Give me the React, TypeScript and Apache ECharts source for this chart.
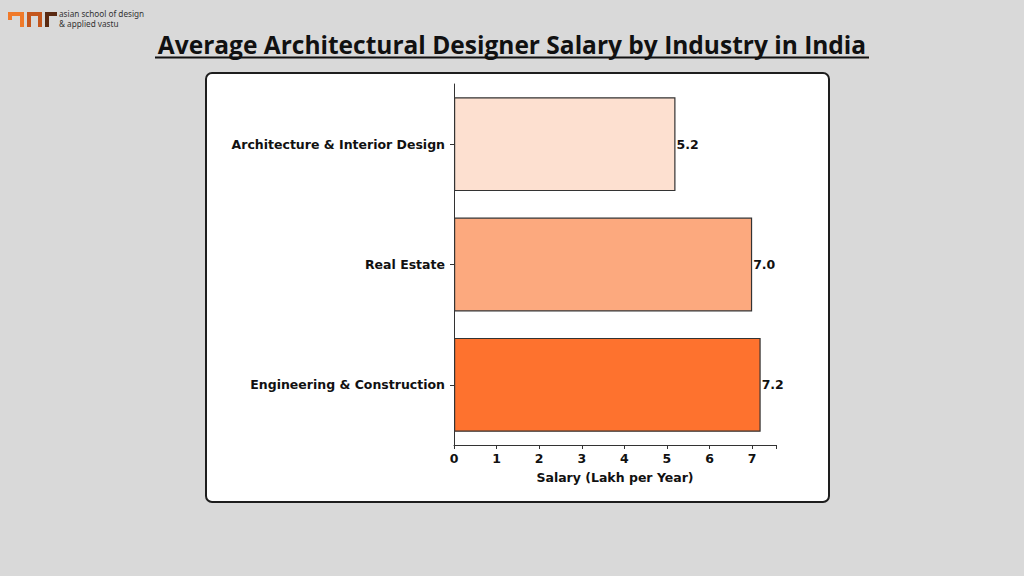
import React, { useEffect, useRef } from "react";
import * as echarts from "echarts";

const categories = ["Engineering & Construction", "Real Estate", "Architecture & Interior Design"];
const salaries = [7.2, 7.0, 5.2];
const barColors = ["#fe722e", "#fca97e", "#fde0d0"];
const xTicks = [0, 1, 2, 3, 4, 5, 6, 7];
const titleText = "Average Architectural Designer Salary by Industry in India";
const xAxisName = "Salary (Lakh per Year)";
const logoLines = ["asian school of design", "& applied vastu"];

echarts.graphic.registerShape(
  "logoA",
  echarts.graphic.extendPath("M0 0 L16 0 L16 15 L12 15 L12 4 L4 4 L4 8 L0 8 Z", {})
);
echarts.graphic.registerShape(
  "logoB",
  echarts.graphic.extendPath("M0 15 L0 0 L15 0 L15 15 L11 15 L11 4 L4 4 L4 15 Z", {})
);
echarts.graphic.registerShape(
  "logoC",
  echarts.graphic.extendPath("M0 15 L0 0 L12 0 L12 4 L4 4 L4 15 Z", {})
);

export default function App() {
  const ref = useRef<HTMLDivElement>(null);
  useEffect(() => {
    if (!ref.current) return;
    const chart = echarts.init(ref.current, null, { renderer: "svg" });
    const bold = { fontFamily: "DejaVu Sans", fontWeight: "bold" as const, fontSize: 12.5, color: "#111111" };
    chart.setOption({
      animation: false,
      backgroundColor: "#d9d9d9",
      graphic: [
        {
          type: "rect",
          z: -10,
          shape: { x: 206, y: 73, width: 623, height: 429, r: 6 },
          style: { fill: "#ffffff", stroke: "#1e1e1e", lineWidth: 2 },
        },
        {
          type: "text",
          x: 512,
          y: 44,
          style: {
            text: titleText,
            fill: "#111111",
            font: "bold 24.5px 'Open Sans', sans-serif",
            textAlign: "center",
            textVerticalAlign: "middle",
          },
        },
        {
          type: "line",
          shape: { x1: 155, y1: 57.5, x2: 869, y2: 57.5 },
          style: { stroke: "#111111", lineWidth: 2 },
        },
        { type: "logoA", x: 8, y: 12, style: { fill: "#f07a2a" } },
        { type: "logoB", x: 27, y: 12, style: { fill: "#c4561d" } },
        { type: "logoC", x: 45, y: 12, style: { fill: "#5a2a12" } },
        {
          type: "text",
          x: 59,
          y: 9,
          style: { text: logoLines[0], fill: "#333333", font: "8.2px 'Noto Sans', sans-serif" },
        },
        {
          type: "text",
          x: 59,
          y: 19,
          style: { text: logoLines[1], fill: "#333333", font: "8.2px 'Noto Sans', sans-serif" },
        },
      ],
      grid: { left: 454, top: 84, width: 322, height: 361, containLabel: false },
      xAxis: {
        type: "value",
        min: 0,
        max: 7.56,
        interval: 1,
        name: xAxisName,
        nameLocation: "middle",
        nameGap: 26,
        nameTextStyle: { ...bold },
        axisLine: { show: true, lineStyle: { color: "#333333", width: 1 } },
        axisTick: { show: true, length: 4, lineStyle: { color: "#333333" } },
        axisLabel: {
          ...bold,
          margin: 7,
          formatter: (v: number) => (xTicks.includes(v) ? String(v) : ""),
        },
        splitLine: { show: false },
      },
      yAxis: {
        type: "category",
        data: categories,
        axisLine: { show: true, lineStyle: { color: "#333333", width: 1 } },
        axisTick: { show: true, alignWithLabel: true, length: 4, lineStyle: { color: "#333333" } },
        axisLabel: { ...bold, margin: 9 },
        splitLine: { show: false },
      },
      series: [
        {
          type: "bar",
          data: salaries.map((v, i) => ({ value: v, itemStyle: { color: barColors[i] } })),
          barWidth: "78%",
          itemStyle: { borderColor: "#333333", borderWidth: 1.2 },
          label: {
            show: true,
            position: "right",
            distance: 1,
            ...bold,
            formatter: (p: any) => Number(p.value).toFixed(1),
          },
        },
      ],
    });
    return () => chart.dispose();
  }, []);
  return (
    <div
      ref={ref}
      style={{ position: "fixed", left: 0, top: 0, width: 1024, height: 576 }}
    />
  );
}
